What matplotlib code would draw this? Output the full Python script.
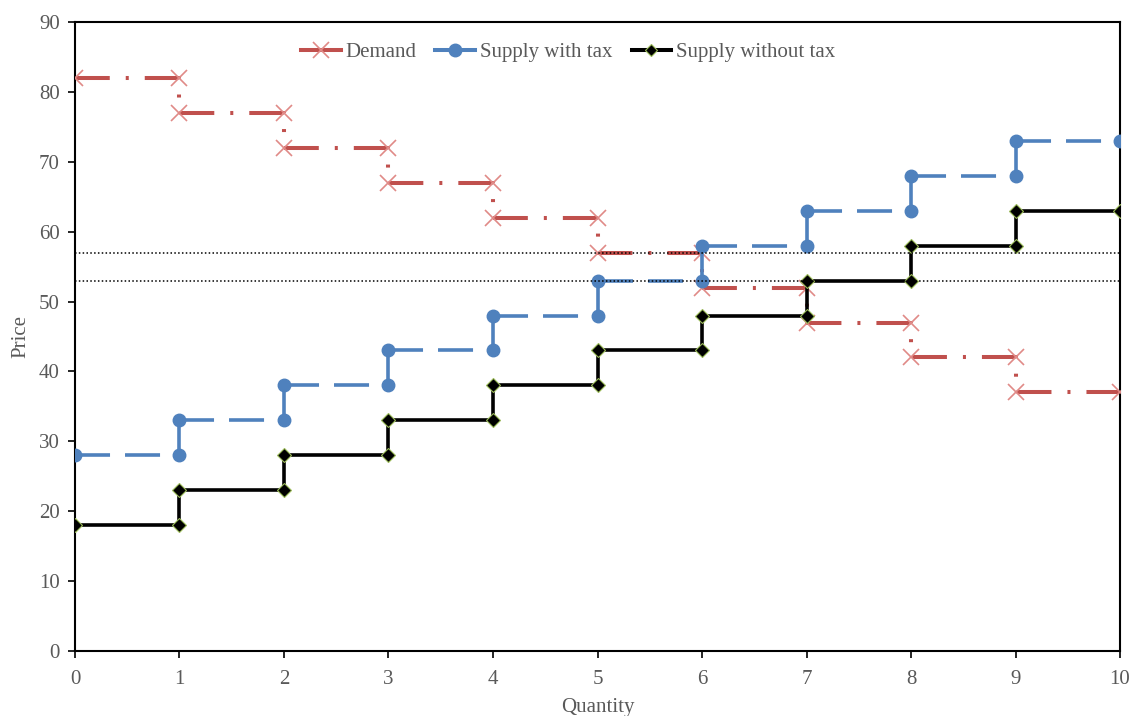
import matplotlib.pyplot as plt
from matplotlib.lines import Line2D

plt.rcParams['font.family'] = ['Liberation Serif', 'DejaVu Serif']

# step points (quantity, price)
quantity = [0, 1, 1, 2, 2, 3, 3, 4, 4, 5, 5, 6, 6, 7, 7, 8, 8, 9, 9, 10]
demand = [82, 82, 77, 77, 72, 72, 67, 67, 62, 62, 57, 57, 52, 52, 47, 47, 42, 42, 37, 37]
supply_tax = [28, 28, 33, 33, 38, 38, 43, 43, 48, 48, 53, 53, 58, 58, 63, 63, 68, 68, 73, 73]
supply_notax = [18, 18, 23, 23, 28, 28, 33, 33, 38, 38, 43, 43, 48, 48, 53, 53, 58, 58, 63, 63]
equilibrium = [57, 53]

text_col = "#595959"
red, red_m = "#C0504D", "#E08A87"
blue = "#4F81BD"
fs = 15

fig = plt.figure(figsize=(11.31, 7.16), dpi=100)
ax = fig.add_axes([0.0663, 0.0908, 0.9240, 0.8785])

# dash-dot period chosen so each step shows dash-dot-dash, then a dot on the drop
ax.plot(quantity, demand, color=red, lw=2.9, ls=(0, (8.63, 3.97, 0.75, 3.97)),
        dash_capstyle="butt", zorder=2)
ax.plot(quantity, demand, ls="none", marker="x", ms=11, mew=1.2, color=red_m, zorder=3)

# dashed supply: pattern restarts at every segment
for i in range(len(quantity) - 1):
    ax.plot(quantity[i:i + 2], supply_tax[i:i + 2], color=blue, lw=2.6,
            ls=(0, (9.7, 4.15)), dash_capstyle="butt", zorder=4)
ax.plot(quantity, supply_tax, ls="none", marker="o", ms=9, color=blue, zorder=5)

ax.plot(quantity, supply_notax, color="black", lw=2.6, zorder=6)
ax.plot(quantity, supply_notax, ls="none", marker="D", ms=7.5, mfc="black",
        mec="#9BBB59", mew=0.8, zorder=7)

for p in equilibrium:
    ax.plot([0, 10], [p, p], color="black", lw=1.1, ls=(0, (1, 1.5)), zorder=8)

ax.set_xlim(0, 10)
ax.set_ylim(0, 90)
ax.set_xticks(range(0, 11))
ax.set_yticks(range(0, 91, 10))
for s in ax.spines.values():
    s.set_linewidth(1.5)
    s.set_color("black")
ax.tick_params(direction="out", length=5, width=1.2, labelsize=fs,
               labelcolor=text_col, pad=6)
ax.tick_params(axis="x", pad=9)
ax.set_xlabel("Quantity", fontsize=fs, color=text_col, labelpad=6)
ax.set_ylabel("Price", fontsize=fs, color=text_col, labelpad=6)

handles = [
    Line2D([], [], color=red, lw=2.9, marker="x", ms=11, mew=1.2, mec=red_m),
    Line2D([], [], color=blue, lw=2.9, marker="o", ms=9),
    Line2D([], [], color="black", lw=2.9, marker="D", ms=6.5, mfc="black", mec="#9BBB59", mew=0.8),
]
ax.legend(handles, ["Demand", "Supply with tax", "Supply without tax"],
          loc="upper center", bbox_to_anchor=(0.472, 0.997), ncol=3, frameon=False,
          fontsize=fs, labelcolor=text_col, handlelength=1.9, handletextpad=0.25,
          columnspacing=0.9)

fig.savefig("out.png", dpi=100)
